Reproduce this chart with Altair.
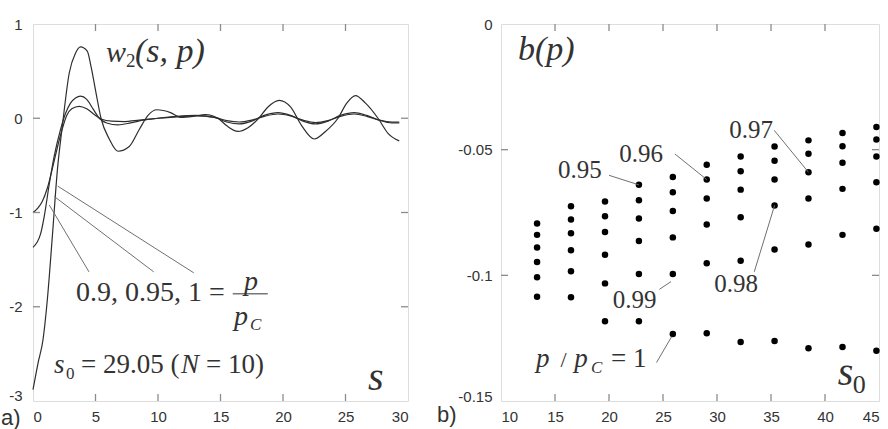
import altair as alt
import pandas as pd

# ---------------- panel a: w2(s, p) for p/pc = 0.9, 0.95, 1 ----------------
s_090 = [0, 0.4, 0.75, 1.15, 1.7, 2.2, 2.7, 3.1, 3.7, 4.3, 4.9, 5.5, 6.3, 7.3, 8.5, 10.0,
         11.5, 13.0, 14.5, 15.5, 16.5, 17.5, 18.5, 19.6, 20.6, 21.6, 22.6, 23.6, 24.6,
         25.7, 26.7, 27.7, 28.7, 29.3]
w_090 = [-1.0, -0.95, -0.88, -0.74, -0.45, -0.18, 0.03, 0.1, 0.127, 0.1, 0.04, -0.01, -0.03,
         -0.035, -0.02, 0.0, 0.015, 0.025, 0.01, -0.025, -0.04, -0.02, 0.02, 0.045, 0.025,
         -0.02, -0.045, -0.025, 0.02, 0.045, 0.02, -0.02, -0.04, -0.04]

s_095 = [0, 0.6, 0.9, 1.3, 1.7, 2.2, 2.6, 3.0, 3.4, 3.8, 4.3, 4.8, 5.3, 5.9, 6.8, 7.8, 8.8,
         10.0, 11.5, 13.0, 14.5, 15.5, 16.5, 17.5, 18.5, 19.6, 20.6, 21.6, 22.6, 23.6, 24.6,
         25.7, 26.7, 27.7, 28.7, 29.3]
w_095 = [-1.37, -1.23, -1.04, -0.7, -0.4, -0.12, 0.05, 0.16, 0.215, 0.235, 0.2, 0.1, 0.0,
         -0.05, -0.07, -0.05, -0.02, 0.0, 0.02, 0.03, 0.01, -0.04, -0.06, -0.03, 0.03, 0.06,
         0.03, -0.03, -0.06, -0.03, 0.03, 0.06, 0.03, -0.02, -0.05, -0.05]

s_100 = [0, 0.4, 0.8, 1.15, 1.55, 1.95, 2.35, 2.9, 3.4, 3.8, 4.35, 4.64, 5.04, 5.44, 6.1, 6.8,
         7.7, 8.5, 9.2, 9.9, 11.0, 11.8, 12.8, 13.8, 14.8, 15.5, 16.4, 17.2, 18.0, 18.8, 19.7,
         20.6, 21.5, 22.5, 23.4, 24.4, 25.1, 25.8, 26.6, 27.6, 28.4, 29.3]
w_100 = [-2.88, -2.6, -2.35, -1.92, -1.25, -0.55, -0.08, 0.48, 0.69, 0.757, 0.71, 0.55, 0.27,
         0.0, -0.22, -0.35, -0.3, -0.12, 0.03, 0.09, 0.06, 0.01, 0.02, 0.04, 0.0, -0.08, -0.14,
         -0.1, -0.01, 0.12, 0.19, 0.12, -0.08, -0.22, -0.14, 0.0, 0.16, 0.24, 0.16, 0.0,
         -0.16, -0.24]

# ---------------- panel b: b(p) against s0 ----------------
s0_values = [13.34, 16.48, 19.63, 22.77, 25.91, 29.05, 32.19, 35.33, 38.47, 41.62, 44.76]
b_values = [
    [-0.0794, -0.0839, -0.0889, -0.0947, -0.1008, -0.1085],
    [-0.0725, -0.0778, -0.0833, -0.0900, -0.0984, -0.1087],
    [-0.0706, -0.0765, -0.0828, -0.0918, -0.1032, -0.1183],
    [-0.0640, -0.0701, -0.0774, -0.0863, -0.0995, -0.1183],
    [-0.0609, -0.0669, -0.0744, -0.0849, -0.0995, -0.1233],
    [-0.0560, -0.0619, -0.0694, -0.0798, -0.0952, -0.1230],
    [-0.0527, -0.0586, -0.0659, -0.0769, -0.0942, -0.1265],
    [-0.0487, -0.0544, -0.0619, -0.0722, -0.0897, -0.1261],
    [-0.0463, -0.0516, -0.0590, -0.0694, -0.0877, -0.1290],
    [-0.0434, -0.0486, -0.0552, -0.0656, -0.0839, -0.1285],
    [-0.0410, -0.0460, -0.0527, -0.0630, -0.0815, -0.1300],
]

# axis tick values
a_x_ticks = [0, 5, 10, 15, 20, 25, 30]
a_y_ticks = [1, 0, -1, -2, -3]
b_x_ticks = [10, 15, 20, 25, 30, 35, 40, 45]
b_y_ticks = [0, -0.05, -0.1, -0.15]

SERIF = "Liberation Serif, DejaVu Serif, serif"
SANS = "Liberation Sans, Arial, sans-serif"
INK = "#333333"
LEAD = "#707070"
FRAME = "#8c8c8c"
A_W, A_H = 375, 377
B_W, B_H = 378, 377

LABELS = "datum.value < 0 ? '-' + format(-datum.value, '~g') : format(datum.value, '~g')"

xs_a = alt.Scale(domain=[0, 30], nice=False, zero=False)
ys_a = alt.Scale(domain=[-3, 1], nice=False, zero=False)
xs_b = alt.Scale(domain=[10, 45], nice=False, zero=False)
ys_b = alt.Scale(domain=[-0.15, 0], nice=False, zero=False)


def axis(values, pad, lowest=None, lift=0):
    extra = {}
    if lowest is not None:
        # nudge the bottom-most label up, clear of the panel tag
        extra["labelOffset"] = {"condition": {"test": f"datum.value == {lowest}",
                                              "value": lift}, "value": 0}
    return alt.Axis(values=values, labelExpr=LABELS, labelPadding=pad, grid=False,
                    ticks=False, domain=False, labelFont=SANS, labelFontSize=15,
                    labelColor=INK, **extra)


def text_layer(rows, xs, ys, style="normal", font=SERIF):
    df = pd.DataFrame(rows, columns=["x", "y", "text", "fs"])
    return alt.Chart(df).mark_text(
        font=font, fontStyle=style, align="left", baseline="alphabetic", color=INK
    ).encode(
        x=alt.X("x:Q", scale=xs, title=None),
        y=alt.Y("y:Q", scale=ys, title=None),
        text="text:N",
        size=alt.Size("fs:Q", scale=None, legend=None),
    )


def leader_layer(rows, xs, ys, color=LEAD):
    df = pd.DataFrame(rows, columns=["x1", "y1", "x2", "y2"])
    return alt.Chart(df).mark_rule(color=color, strokeWidth=1).encode(
        x=alt.X("x1:Q", scale=xs, title=None),
        y=alt.Y("y1:Q", scale=ys, title=None),
        x2="x2:Q",
        y2="y2:Q",
    )


def tick_layers(xvals, yvals, xs, ys, w, h, n=7):
    dx = pd.DataFrame({"t": xvals})
    dy = pd.DataFrame({"t": yvals})
    out = []
    for a, b in [(h, h - n), (0, n)]:
        out.append(alt.Chart(dx).mark_rule(color=FRAME, strokeWidth=1.3).encode(
            x=alt.X("t:Q", scale=xs, title=None), y=alt.value(a), y2=alt.value(b)))
    for a, b in [(0, n), (w, w - n)]:
        out.append(alt.Chart(dy).mark_rule(color=FRAME, strokeWidth=1.3).encode(
            y=alt.Y("t:Q", scale=ys, title=None), x=alt.value(a), x2=alt.value(b)))
    return out


# ---------------- panel a ----------------
curves = pd.concat([
    pd.DataFrame({"s": s_090, "w": w_090, "p": "0.9"}),
    pd.DataFrame({"s": s_095, "w": w_095, "p": "0.95"}),
    pd.DataFrame({"s": s_100, "w": w_100, "p": "1"}),
])

lines_a = alt.Chart(curves).mark_line(
    color="#2e2e2e", strokeWidth=1.2, interpolate="monotone"
).encode(
    x=alt.X("s:Q", scale=xs_a, title=None, axis=axis(a_x_ticks, 8)),
    y=alt.Y("w:Q", scale=ys_a, title=None, axis=axis(a_y_ticks, 11, -3, -6)),
    detail="p:N",
)

lead_a = leader_layer([
    (1.98, -0.72, 12.86, -1.64),
    (1.70, -0.83, 9.66, -1.63),
    (1.30, -0.92, 4.48, -1.63),
], xs_a, ys_a)

bar_a = leader_layer([(15.98, -1.863, 18.78, -1.863)], xs_a, ys_a, color=INK)

ital_a = text_layer([
    (5.84, 0.60, "w", 30),
    (8.16, 0.60, "(s, p)", 34),
    (16.88, -1.82, "p", 28),
    (16.08, -2.19, "p", 28),
    (17.36, -2.25, "C", 17),
    (1.68, -2.70, "s", 27),
    (11.84, -2.70, "N", 27),
    (26.8, -2.88, "s", 40),
], xs_a, ys_a, style="italic")

rom_a = text_layer([
    (7.44, 0.54, "2", 19),
    (3.44, -1.94, "0.9, 0.95, 1 =", 28),
    (2.64, -2.77, "0", 17),
    (3.84, -2.70, "= 29.05 (", 27),
    (13.84, -2.70, "= 10)", 27),
], xs_a, ys_a)

tag_a = text_layer([(-2.56, -3.25, "a)", 22)], xs_a, ys_a, font=SANS)

panel_a = alt.layer(
    lines_a, lead_a, bar_a, ital_a, rom_a, tag_a,
    *tick_layers(a_x_ticks[1:-1], a_y_ticks[1:-1], xs_a, ys_a, A_W, A_H),
).properties(width=A_W, height=A_H)

# ---------------- panel b ----------------
dots = pd.DataFrame(
    [(s0, b) for s0, col in zip(s0_values, b_values) for b in col],
    columns=["s0", "b"],
)

points_b = alt.Chart(dots).mark_circle(size=42, color="black", opacity=1).encode(
    x=alt.X("s0:Q", scale=xs_b, title=None, axis=axis(b_x_ticks, 8)),
    y=alt.Y("b:Q", scale=ys_b, title=None, axis=axis(b_y_ticks, 9, -0.15, -5)),
)

lead_b = leader_layer([
    (20.0, -0.0602, 22.77, -0.0640),
    (26.1, -0.0517, 29.05, -0.0619),
    (35.3, -0.0423, 38.47, -0.0590),
    (33.45, -0.0986, 35.33, -0.0722),
    (24.66, -0.1056, 25.74, -0.1025),
    (24.4, -0.1347, 25.8, -0.1244),
], xs_b, ys_b)

ital_b = text_layer([
    (11.57, -0.0142, "b(p)", 34),
    (13.24, -0.1363, "p", 27),
    (16.79, -0.1363, "p", 27),
    (18.33, -0.1389, "C", 17),
    (41.17, -0.1435, "s", 40),
], xs_b, ys_b, style="italic")

rom_b = text_layer([
    (15.28, -0.0614, "0.95", 25),
    (20.95, -0.0549, "0.96", 25),
    (31.14, -0.0452, "0.97", 25),
    (29.75, -0.1065, "0.98", 25),
    (20.34, -0.1131, "0.99", 25),
    (15.5, -0.1363, "/", 22),
    (20.19, -0.1363, "= 1", 27),
    (42.56, -0.1468, "0", 26),
], xs_b, ys_b)

tag_b = text_layer([(4.07, -0.1585, "b)", 22)], xs_b, ys_b, font=SANS)

panel_b = alt.layer(
    points_b, lead_b, ital_b, rom_b, tag_b,
    *tick_layers(b_x_ticks[1:-1], b_y_ticks[1:-1], xs_b, ys_b, B_W, B_H),
).properties(width=B_W, height=B_H)

chart = alt.hconcat(panel_a, panel_b, spacing=93, bounds="flush").properties(
    padding={"left": 0, "top": 16, "right": 0, "bottom": 0}
).configure_view(
    stroke=FRAME, strokeWidth=2
).configure_axis(
    domain=False, ticks=False, grid=False,
    labelFont=SANS, labelFontSize=15, labelColor=INK,
).configure(background="white")

chart.save("out.html", embed_options={"renderer": "svg", "actions": False})
